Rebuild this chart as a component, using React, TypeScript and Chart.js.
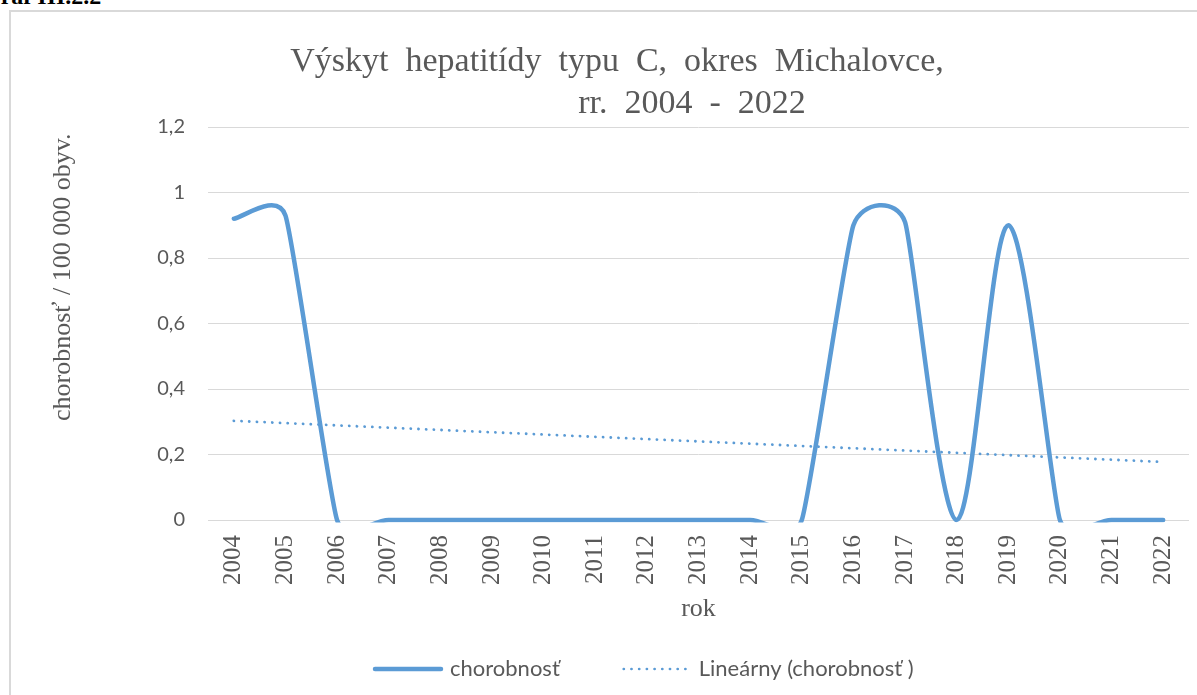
import React, { useEffect, useRef } from 'react';
import { Chart, registerables } from 'chart.js';

Chart.register(...registerables);

// ---- data ----
const years = ['2004', '2005', '2006', '2007', '2008', '2009', '2010', '2011', '2012', '2013', '2014', '2015', '2016', '2017', '2018', '2019', '2020', '2021', '2022'];
const incidence = [0.92, 0.93, 0, 0, 0, 0, 0, 0, 0, 0, 0, 0, 0.9, 0.91, 0, 0.9, 0, 0, 0];
const seriesLabel = 'chorobnosť';
const trendLabel = 'Lineárny (chorobnosť )';
const titleLines = ['Výskyt  hepatitídy  typu  C,  okres  Michalovce,', 'rr.  2004  -  2022'];
const yAxisTitle = 'chorobnosť / 100 000 obyv.\u00a0';
const xAxisTitle = 'rok';
const heading = 'Graf III.2.2';
const yMin = 0;
const yMax = 1.2;
const yStep = 0.2;

// least-squares linear trend of the series (Excel "Lineárny" trendline)
function linearTrend(values: number[]): number[] {
  const n = values.length;
  const xm = (n - 1) / 2;
  const ym = values.reduce((a, b) => a + b, 0) / n;
  let sxy = 0;
  let sxx = 0;
  values.forEach((v, i) => {
    sxy += (i - xm) * (v - ym);
    sxx += (i - xm) * (i - xm);
  });
  const slope = sxy / sxx;
  return values.map((_, i) => ym + slope * (i - xm));
}

const BLUE = '#5b9bd5';
const TEXT = '#595959';
const GRID = '#d9d9d9';
const SERIF = '"Liberation Serif", "Times New Roman", serif';
const SANS = 'Lato, "Open Sans", sans-serif';

// Excel-like smoothing: Catmull-Rom tangents, limited to half of the adjacent segments
const excelSmoothPlugin = {
  id: 'excelSmooth',
  beforeDatasetDraw(chart: any, args: any) {
    const meta = args.meta;
    const line = meta.dataset;
    if (!line || !line.options || !(line.options.tension > 0)) return;
    const pts = meta.data;
    const n = pts.length;
    for (let i = 0; i < n; i++) {
      const p = pts[i];
      const prev = pts[Math.max(0, i - 1)];
      const next = pts[Math.min(n - 1, i + 1)];
      const tx = next.x - prev.x;
      const ty = next.y - prev.y;
      const d02 = Math.hypot(tx, ty);
      const d01 = Math.hypot(p.x - prev.x, p.y - prev.y);
      const d12 = Math.hypot(next.x - p.x, next.y - p.y);
      let f = 1 / 6;
      if (d02 > 0) {
        if (i > 0) f = Math.min(f, d01 / (2 * d02));
        if (i < n - 1) f = Math.min(f, d12 / (2 * d02));
      }
      p.cp1x = p.x - f * tx;
      p.cp1y = p.y - f * ty;
      p.cp2x = p.x + f * tx;
      p.cp2y = p.y + f * ty;
    }
    line._pointsUpdated = true;
  },
};

const decorPlugin = {
  id: 'decor',
  afterDraw(chart: any) {
    const { ctx } = chart;
    ctx.save();
    // title
    ctx.fillStyle = TEXT;
    ctx.font = `34px ${SERIF}`;
    ctx.textAlign = 'center';
    ctx.textBaseline = 'alphabetic';
    ctx.fillText(titleLines[0], 606, 59);
    ctx.fillText(titleLines[1], 681, 101);

    // legend
    const ds = chart.data.datasets;
    ctx.font = `22px ${SANS}`;
    const w1 = ctx.measureText(ds[0].label).width;
    const s1 = 70, g1 = 7, gap = 62, s2 = 65, g2 = 12;
    const y = 657;
    let x = 362;
    ctx.lineCap = 'round';
    ctx.strokeStyle = BLUE;
    ctx.lineWidth = 4.5;
    ctx.beginPath();
    ctx.moveTo(x + 2, y);
    ctx.lineTo(x + s1 - 2, y);
    ctx.stroke();
    x += s1 + g1;
    ctx.fillStyle = TEXT;
    ctx.textAlign = 'left';
    ctx.textBaseline = 'middle';
    ctx.fillText(ds[0].label, x, y);
    x += w1 + gap;
    ctx.lineWidth = 2.7;
    ctx.setLineDash([0.1, 7.6]);
    ctx.beginPath();
    ctx.moveTo(x + 2, y);
    ctx.lineTo(x + s2, y);
    ctx.stroke();
    ctx.setLineDash([]);
    x += s2 + g2;
    ctx.fillText(ds[1].label, x, y);
    ctx.restore();
  },
};

export default function App() {
  const ref = useRef<HTMLCanvasElement | null>(null);

  useEffect(() => {
    if (!ref.current) return;
    const chart = new Chart(ref.current, {
      type: 'line',
      data: {
        labels: years,
        datasets: [
          {
            label: seriesLabel,
            data: incidence,
            borderColor: BLUE,
            backgroundColor: BLUE,
            borderWidth: 4.5,
            pointRadius: 0,
            tension: 0.5,
            borderCapStyle: 'round',
            borderJoinStyle: 'round',
            clip: { left: 10, top: 10, right: 10, bottom: 2.5 } as any,
          },
          {
            label: trendLabel,
            data: linearTrend(incidence),
            borderColor: BLUE,
            backgroundColor: BLUE,
            borderWidth: 2.8,
            borderDash: [0.1, 7.6],
            borderCapStyle: 'round',
            pointRadius: 0,
            tension: 0,
          },
        ],
      },
      options: {
        responsive: false,
        animation: false,
        events: [],
        elements: { line: { capBezierPoints: false } },
        layout: { padding: { top: 115, left: 0, right: 108, bottom: 65 } },
        plugins: {
          legend: { display: false },
          title: { display: false },
          tooltip: { enabled: false },
        },
        scales: {
          x: {
            type: 'category',
            offset: true,
            grid: { display: false, drawTicks: false },
            border: { display: false },
            ticks: {
              color: TEXT,
              font: { family: SERIF, size: 25 },
              maxRotation: 90,
              minRotation: 90,
              padding: 15,
              autoSkip: false,
            },
            title: {
              display: true,
              text: xAxisTitle,
              color: TEXT,
              font: { family: SERIF, size: 26 },
              padding: { top: 0, bottom: 5 },
            },
            afterFit(scale: any) {
              scale.height = 110;
            },
          },
          y: {
            min: yMin,
            max: yMax,
            grid: { color: GRID, lineWidth: 1, drawTicks: false },
            border: { display: false },
            ticks: {
              stepSize: yStep,
              color: TEXT,
              font: { family: SANS, size: 20 },
              padding: 23,
              callback: (v: any) => String(Math.round(Number(v) * 10) / 10).replace('.', ','),
            },
            title: {
              display: true,
              text: yAxisTitle,
              align: 'end',
              color: TEXT,
              font: { family: SERIF, size: 26 },
              padding: { top: 37, bottom: 0 },
            },
            afterFit(scale: any) {
              scale.width = 197;
            },
          },
        },
      },
      plugins: [excelSmoothPlugin, decorPlugin],
    });
    return () => chart.destroy();
  }, []);

  return (
    <div style={{ position: 'fixed', left: 0, top: 0, width: 1197, height: 695, overflow: 'hidden', background: '#fff' }}>
      <div
        style={{
          position: 'absolute',
          left: -18,
          top: -16,
          font: `bold 24px ${SERIF}`,
          lineHeight: '24px',
          whiteSpace: 'nowrap',
          color: '#000',
        }}
      >
        {heading}
      </div>
      <div style={{ position: 'absolute', left: 9, top: 10, width: 1300, height: 700, border: `2px solid ${GRID}` }}>
        <canvas ref={ref} width={1286} height={683} style={{ position: 'absolute', left: 0, top: 0, display: 'block' }} />
      </div>
    </div>
  );
}
